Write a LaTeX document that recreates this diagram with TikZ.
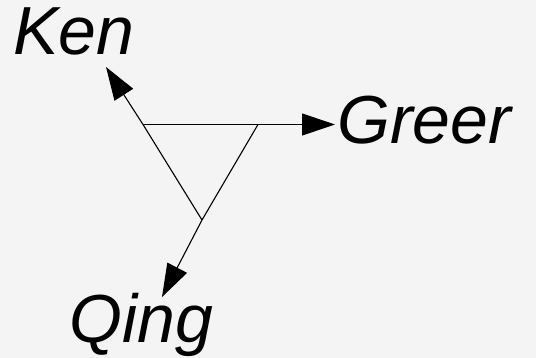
\documentclass[tikz,border=0pt]{standalone}
\usepackage{fontspec}
\setmainfont{Liberation Sans}
\usepackage{tikz}
\usetikzlibrary{arrows.meta,positioning}
\definecolor{bgcolor}{RGB}{244,244,244}

\begin{document}
\begin{tikzpicture}[x=1pt, y=-1pt,
                    person/.style={inner sep=0pt, anchor=base west,
                    font=\fontsize{68}{80}\selectfont\itshape},
                    link/.style={line width=1.1pt, -{Triangle[length=33pt, width=22pt]}}]
    \fill [bgcolor] (0,0) rectangle (536,358);
    \useasboundingbox (0,0) rectangle (536,358);

    \coordinate (a) at (143,124.5);
    \coordinate (b) at (258,124.5);
    \coordinate (c) at (202,220);
    \coordinate (tipG) at (335,124.5);
    \coordinate (tipQ) at (162,297);
    \coordinate (tipK) at (106,67);

    \node [person] (ken) at (13,55) {Ken};
    \node [person] (greer) at (337,144) {Greer};
    \node [person] (qing) at (69,342) {Qing};

    \draw [link] (a) -- (b) -- (tipG);
    \draw [link] (b) -- (c) -- (tipQ);
    \draw [link] (c) -- (a) -- (tipK);
\end{tikzpicture}
\end{document}
